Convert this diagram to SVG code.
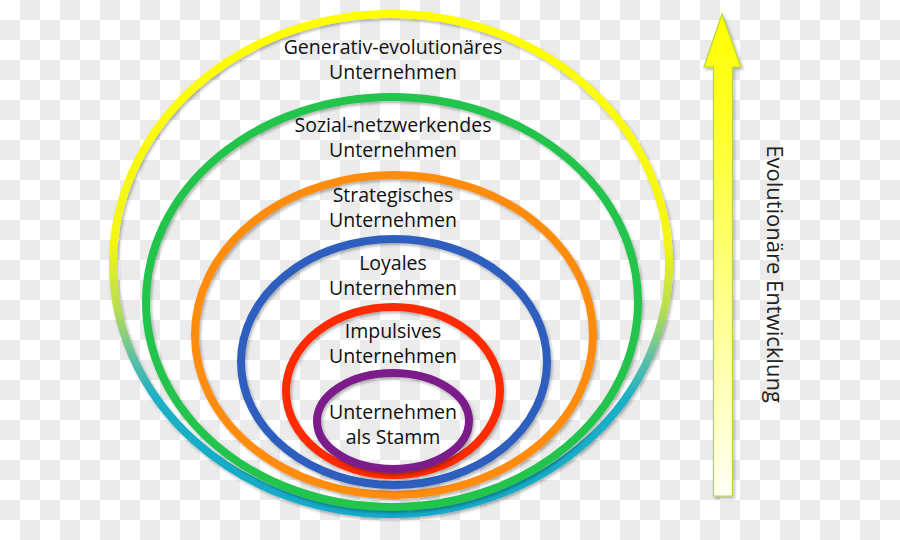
<svg xmlns="http://www.w3.org/2000/svg" width="900" height="540" viewBox="0 0 900 540">
  <defs>
    <pattern id="checker" x="0" y="0" width="40" height="40" patternUnits="userSpaceOnUse">
      <rect width="40" height="40" fill="#ffffff"/>
      <rect x="20" y="0" width="20" height="20" fill="#ebebeb"/>
      <rect x="0" y="20" width="20" height="20" fill="#ebebeb"/>
    </pattern>
    <linearGradient id="outerGrad" gradientUnits="userSpaceOnUse" x1="0" y1="10" x2="0" y2="516">
      <stop offset="0" stop-color="#ffff00"/>
      <stop offset="0.46" stop-color="#f4f418"/>
      <stop offset="0.59" stop-color="#b8de50"/>
      <stop offset="0.69" stop-color="#5cbfa6"/>
      <stop offset="0.77" stop-color="#1ab0c8"/>
      <stop offset="1" stop-color="#18aac8"/>
    </linearGradient>
    <linearGradient id="arrowGrad" x1="0" y1="0" x2="0" y2="1">
      <stop offset="0" stop-color="#ffff00"/>
      <stop offset="0.25" stop-color="#ffff30"/>
      <stop offset="1" stop-color="#fffff6"/>
    </linearGradient>
    <filter id="shadow" x="-10%" y="-10%" width="120%" height="120%">
      <feDropShadow dx="1.5" dy="2" stdDeviation="1.5" flood-color="#000" flood-opacity="0.3"/>
    </filter>
    <style>
      .ring { fill: none; stroke-width: 8; filter: url(#shadow); }
      .lbl { font-family: "Open Sans", "DejaVu Sans", sans-serif; font-size: 19.5px; fill: #111; text-anchor: middle; }
      .side { font-family: "Open Sans", "DejaVu Sans", sans-serif; font-size: 22px; fill: #222; text-anchor: middle; }
    </style>
  </defs>

  <rect width="900" height="540" fill="url(#checker)"/>

  <g id="ring-generativ">
    <ellipse class="ring" cx="391" cy="264" rx="278" ry="250" stroke="url(#outerGrad)"/>
    <text class="lbl" x="393" y="54">Generativ-evolutionäres</text>
    <text class="lbl" x="393" y="79">Unternehmen</text>
  </g>

  <g id="ring-sozial">
    <ellipse class="ring" cx="392" cy="302" rx="246" ry="205" stroke="#22c44c"/>
    <text class="lbl" x="393" y="132">Sozial-netzwerkendes</text>
    <text class="lbl" x="393" y="157">Unternehmen</text>
  </g>

  <g id="ring-strategisch">
    <ellipse class="ring" cx="394" cy="335" rx="199" ry="160" stroke="#ff8c10"/>
    <text class="lbl" x="393" y="202">Strategisches</text>
    <text class="lbl" x="393" y="227">Unternehmen</text>
  </g>

  <g id="ring-loyal">
    <ellipse class="ring" cx="394" cy="362" rx="153" ry="123" stroke="#2e5fbf"/>
    <text class="lbl" x="393" y="270">Loyales</text>
    <text class="lbl" x="393" y="295">Unternehmen</text>
  </g>

  <g id="ring-impulsiv">
    <ellipse class="ring" cx="393" cy="391" rx="107" ry="84" stroke="#ff2a00"/>
    <text class="lbl" x="393" y="338">Impulsives</text>
    <text class="lbl" x="393" y="363">Unternehmen</text>
  </g>

  <g id="ring-stamm">
    <ellipse class="ring" cx="393" cy="421" rx="76" ry="48" stroke="#7b1f8a"/>
    <text class="lbl" x="393" y="419">Unternehmen</text>
    <text class="lbl" x="393" y="444">als Stamm</text>
  </g>

  <g id="arrow-entwicklung">
    <polygon points="722,14 741,67 732.5,67 732.5,496 713.5,496 713.5,67 704,67" fill="url(#arrowGrad)" stroke="#b4d83a" stroke-width="1.2" stroke-linejoin="miter" filter="url(#shadow)"/>
    <text class="side" transform="translate(767,274) rotate(90)">Evolutionäre Entwicklung</text>
  </g>
</svg>
